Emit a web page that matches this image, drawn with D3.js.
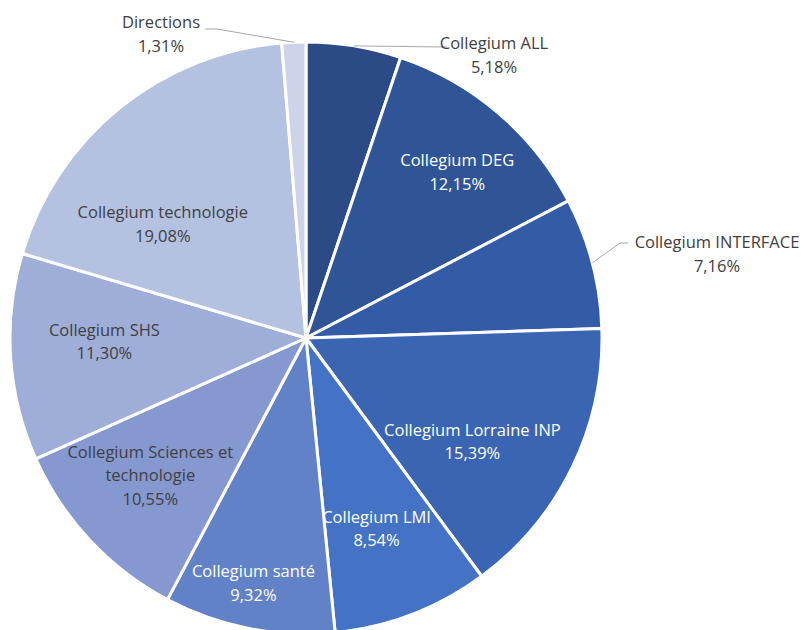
<!DOCTYPE html>
<html><head><meta charset="utf-8">
<script src="https://cdn.jsdelivr.net/npm/d3@7"></script>
<style>
html,body{margin:0;padding:0;background:#fff;}
svg{display:block;font-family:"Open Sans","Noto Sans",sans-serif;}
</style></head>
<body><svg id="c" width="804" height="630"></svg>
<script>
const categories = ["Collegium ALL","Collegium DEG","Collegium INTERFACE","Collegium Lorraine INP","Collegium LMI","Collegium santé","Collegium Sciences et technologie","Collegium SHS","Collegium technologie","Directions"];
const values = [5.18,12.15,7.16,15.39,8.54,9.32,10.55,11.30,19.08,1.31];
const valueLabels = ["5,18%","12,15%","7,16%","15,39%","8,54%","9,32%","10,55%","11,30%","19,08%","1,31%"];

const colors = ["#2c4b86","#2f5597","#345ca6","#3a65b3","#4472c4","#6282c8","#8598d0","#9eaed8","#b5c1e0","#cdd4ea"];
const labelColors = ["#404040","#ffffff","#404040","#ffffff","#ffffff","#ffffff","#404040","#404040","#404040","#404040"];
// label layout: inside labels use centroid at radius 205 plus nudge; outside labels use leader lines
const nudges = [[0,0],[18,-10],[0,0],[-18,14],[-3,-1],[-13,44],[-6,-3],[3,-10],[-14,45],[0,0]];
const lineBreaks = {6:["Collegium Sciences et","technologie"]};
const outside = {
  0:{bend:[447,47], end:[447,47], text:[494,55]},
  2:{bend:[620,243], end:[628,243], text:[717,254]},
  9:{bend:[217,29], end:[205,29], text:[161,34]}
};

const svg = d3.select("#c");
const cx = 306, cy = 338, R = 296;
const g = svg.append("g").attr("transform",`translate(${cx},${cy})`);
const pie = d3.pie().value(d=>d).sort(null);
const arcs = pie(values);
const arc = d3.arc().innerRadius(0).outerRadius(R);
const labelArc = d3.arc().innerRadius(205).outerRadius(205);
const edgeArc = d3.arc().innerRadius(R).outerRadius(R);

g.selectAll("path.slice").data(arcs).enter().append("path")
  .attr("class","slice")
  .attr("d",arc)
  .attr("fill",(d,i)=>colors[i])
  .attr("stroke","#fff").attr("stroke-width",3).attr("stroke-linejoin","round");

const fs = 16.5, lh = 23.5;
arcs.forEach((d,i)=>{
  let lines = lineBreaks[i] ? lineBreaks[i].slice() : [categories[i]];
  lines.push(valueLabels[i]);
  let x, y;
  if (outside[i]) {
    const o = outside[i];
    const p = edgeArc.centroid(d);
    const pts = [[p[0]+cx,p[1]+cy], o.bend, o.end];
    svg.append("path").attr("d", d3.line()(pts)).attr("fill","none")
      .attr("stroke","#a6a6a6").attr("stroke-width",1);
    [x,y] = o.text;
  } else {
    const c = labelArc.centroid(d);
    x = c[0]+cx+nudges[i][0]; y = c[1]+cy+nudges[i][1];
  }
  const t = svg.append("text").attr("text-anchor","middle")
    .attr("fill",labelColors[i]).attr("font-size",fs);
  const n = lines.length;
  lines.forEach((s,k)=>{
    t.append("tspan").attr("x",x).attr("y", y + (k-(n-1)/2)*lh + fs*0.36).text(s);
  });
});
</script></body></html>
